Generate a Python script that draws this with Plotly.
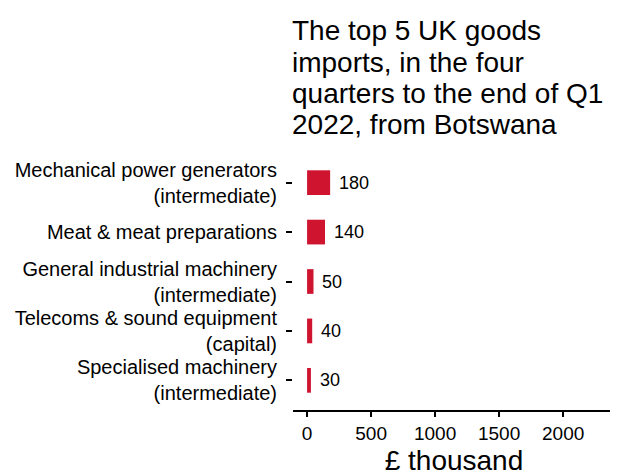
import plotly.graph_objects as go

categories = [
    "Mechanical power generators<br>(intermediate)",
    "Meat & meat preparations",
    "General industrial machinery<br>(intermediate)",
    "Telecoms & sound equipment<br>(capital)",
    "Specialised machinery<br>(intermediate)",
]
values = [180, 140, 50, 40, 30]
x_ticks = [0, 500, 1000, 1500, 2000]

title_lines = [
    "The top 5 UK goods",
    "imports, in the four",
    "quarters to the end of Q1",
    "2022, from Botswana",
]
x_title = "£ thousand"
bar_color = "#cf1430"
font_family = "Liberation Sans, Arial, sans-serif"

W, H = 618, 472
ML, MR, MT, MB = 285, 11, 145, 70
PH = H - MT - MB

fig = go.Figure()
fig.add_trace(go.Bar(
    y=categories, x=values, orientation="h",
    marker=dict(color=bar_color, line=dict(width=0)),
    width=0.5,
    hoverinfo="skip",
))

for c, v in zip(categories, values):
    fig.add_annotation(x=v, y=c, text=str(v), showarrow=False,
                       xanchor="left", yanchor="middle", xshift=7,
                       font=dict(size=18, color="black", family=font_family))

# title lines with tight line spacing (pixel centres from top of figure)
title_centres = [23, 54.5, 86, 117]
for line, yc in zip(title_lines, title_centres):
    fig.add_annotation(text=line, showarrow=False,
                       xref="paper", x=0, xanchor="left", xshift=-3,
                       yref="paper", y=(H - MB - yc) / PH, yanchor="middle",
                       font=dict(size=28, color="black", family=font_family))

fig.update_layout(
    width=W, height=H,
    margin=dict(l=ML, r=MR, t=MT, b=MB),
    paper_bgcolor="white", plot_bgcolor="white",
    showlegend=False,
    font=dict(family=font_family, color="black"),
    xaxis=dict(range=[-110, 2405], tickvals=x_ticks, ticktext=[str(t) for t in x_ticks],
               showgrid=False, zeroline=False, showline=True, linecolor="black", linewidth=2,
               ticks="outside", ticklen=5, tickwidth=2, tickcolor="black",
               tickfont=dict(size=19, color="black"),
               title=dict(text=x_title, font=dict(size=28, color="black"), standoff=8),
               automargin=False),
    yaxis=dict(categoryorder="array", categoryarray=categories[::-1],
               range=[-0.6, 4.6],
               showgrid=False, zeroline=False, showline=False,
               ticks="outside", ticklen=6, tickwidth=2, tickcolor="black",
               tickfont=dict(size=20, color="black"), ticklabelstandoff=5,
               automargin=False),
)

fig.write_html("out.html")
